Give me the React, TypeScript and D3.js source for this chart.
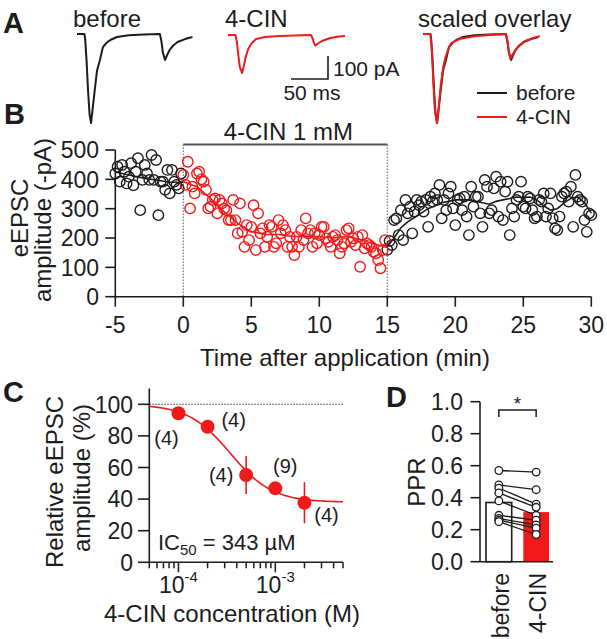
import React from 'react';
import * as d3 from 'd3';

const FONT = '"Liberation Sans", Arial, Helvetica, sans-serif';
const RED = '#f01a1a';
const INK = '#1c1c1c';

// ---------- Panel A: example traces (ms, pA) ----------
const beforeTraceT = [0, 10, 11, 13, 15, 17, 19, 21, 24, 27, 31, 35, 40, 45, 54, 70, 90, 112, 114, 116, 119, 122, 125, 130, 136, 146, 156];
const beforeTraceI = [0, 0, -20, -120, -250, -350, -387, -330, -243, -160, -113, -57, -38, -26, -13, -5, -2, 0, -30, -80, -113, -90, -70, -50, -35, -22, -13];
const cinTraceT = [0, 10, 12, 14, 16, 19, 21, 24, 27, 30, 34, 38, 50, 70, 90, 112, 114, 116, 118, 121, 127, 138, 150, 158];
const cinTraceI = [0, 0, -30, -90, -140, -165, -140, -95, -64, -45, -29, -17, -9, -4, -2, 0, -12, -32, -46, -38, -26, -13, -7, -4];
const traceTitles = ['before', '4-CIN', 'scaled overlay'];
const legendLabels = ['before', '4-CIN'];

// ---------- Panel B: time course (sampled every 10 s) ----------
const sampleStep = 1 / 6;
const beforeStartMin = -5;
const cinStartMin = 0;
const afterStartMin = 15;
const beforeAmp = [420, 443, 392, 449, 426, 386, 409, 455, 380, 426, 472, 295, 398, 449, 420, 398, 483, 398, 466, 278, 392, 392, 364, 432, 352, 432, 392, 381, 369, 420];
const cinAmp = [
  415, 381, 460, 301, 375, 352,
  420, 426, 400, 392, 364, 301,
  307, 330, 335, 284, 330, 318,
  300, 295, 261, 261, 330, 261,
  216, 318, 221, 170, 244, 193,
  238, 312, 159, 284, 216, 233,
  170, 204, 244, 238, 170, 182,
  261, 216, 244, 227, 170, 204,
  170, 142, 204, 170, 227, 193,
  267, 216, 227, 170, 216, 182,
  210, 238, 238, 199, 187, 170,
  204, 210, 193, 148, 170, 182,
  227, 233, 187, 199, 176, 204,
  102, 210, 165, 182, 176, 170,
  153, 148, 125, 97, 159, 193,
];
const afterAmp = [
  160, 190, 176, 261, 267, 210,
  295, 193, 330, 284, 307, 216,
  290, 330, 312, 324, 290, 330,
  238, 341, 324, 352, 330, 381,
  267, 330, 295, 352, 375, 301,
  244, 330, 335, 295, 341, 273,
  210, 375, 307, 341, 341, 284,
  238, 398, 375, 284, 295, 369,
  409, 273, 392, 261, 358, 392,
  210, 301, 273, 330, 341, 392,
  307, 301, 341, 335, 295, 267,
  273, 330, 324, 352, 273, 301,
  352, 267, 233, 227, 273, 341,
  352, 358, 324, 375, 238, 415,
  341, 330, 324, 261, 221, 284,
  278,
];
const beforeTrendT = [-5, -4, -3, -2, -1, 0];
const beforeTrendV = [425, 415, 405, 398, 390, 390];
const cinTrendT = [0, 1, 2, 3, 4, 5, 6, 7, 8, 9, 10, 11, 12, 13, 14, 15];
const cinTrendV = [392, 375, 335, 290, 250, 222, 212, 212, 205, 205, 205, 200, 205, 195, 180, 168];
const afterTrendT = [15, 15.5, 16, 16.5, 17, 17.5, 18, 18.5, 19, 19.5, 20, 21, 22, 22.5, 23, 23.5, 24, 24.5, 25, 25.5, 26, 26.5, 27, 27.5, 28, 28.5, 29, 29.5, 30];
const afterTrendV = [170, 200, 235, 255, 270, 285, 300, 310, 320, 325, 330, 330, 320, 315, 325, 330, 335, 340, 338, 340, 330, 310, 295, 300, 320, 335, 340, 320, 285];
const bXTicks = [-5, 0, 5, 10, 15, 20, 25, 30];
const bYTicks = [0, 100, 200, 300, 400, 500];
const drugLabel = '4-CIN 1 mM';
const drugWindow = [0, 15];

// ---------- Panel C: concentration-response ----------
const concentrations = [1e-4, 2e-4, 5e-4, 1e-3, 2e-3];
const relAmp = [94.3, 85.8, 55.3, 46.8, 37.7];
const relErr = [2, 2, 12, 2, 13];
const nCells = [4, 4, 4, 9, 4];
const fitIC50 = 343e-6;
const fitTop = 100;
const fitBottom = 38;
const fitHill = 2;
const cYTicks = [0, 20, 40, 60, 80, 100];

// ---------- Panel D: paired-pulse ratio ----------
const pprCats = ['before', '4-CIN'];
const pprMeans = [0.37, 0.31];
const pprBefore = [0.57, 0.48, 0.46, 0.43, 0.38, 0.29, 0.27, 0.26, 0.25];
const pprCin = [0.56, 0.45, 0.36, 0.34, 0.29, 0.26, 0.23, 0.21, 0.17];
const dYTicks = [0, 0.2, 0.4, 0.6, 0.8, 1.0];

const T = (p: any) => <text fontFamily={FONT} fill={INK} {...p} />;

function TraceA({ t, i, x0, y0, color, scale = 1 }: any) {
  const xs = d3.scaleLinear().domain([0, 50]).range([x0, x0 + 37]);
  const ys = d3.scaleLinear().domain([0, -100]).range([y0, y0 + 23]);
  const line = d3.line<number>().x((_, k) => xs(t[k])).y((d) => ys(d * scale));
  return <path d={line(i) || ''} fill="none" stroke={color} strokeWidth={2} strokeLinejoin="round" />;
}

function PanelA() {
  const overlayScale = d3.min(beforeTraceI)! / d3.min(cinTraceI)!;
  return (
    <g>
      <T x={3} y={33} fontSize={29} fontWeight="bold">A</T>
      <T x={73} y={27} fontSize={24}>{traceTitles[0]}</T>
      <T x={225} y={27} fontSize={24}>{traceTitles[1]}</T>
      <T x={418} y={27} fontSize={24}>{traceTitles[2]}</T>
      <TraceA t={beforeTraceT} i={beforeTraceI} x0={77} y0={34} color={INK} />
      <TraceA t={cinTraceT} i={cinTraceI} x0={228} y0={35} color={RED} />
      <TraceA t={beforeTraceT} i={beforeTraceI} x0={423} y0={34} color={INK} />
      <TraceA t={cinTraceT} i={cinTraceI} x0={423} y0={34} color={RED} scale={overlayScale} />
      {/* scale bar */}
      <path d="M291,79 H328 V56" fill="none" stroke={INK} strokeWidth={1.6} />
      <T x={333} y={76} fontSize={21}>100 pA</T>
      <T x={312} y={100} fontSize={21} textAnchor="middle">50 ms</T>
      {/* legend */}
      <line x1={477} x2={507} y1={93} y2={93} stroke={INK} strokeWidth={2} />
      <T x={516} y={100} fontSize={21}>{legendLabels[0]}</T>
      <line x1={477} x2={507} y1={117} y2={117} stroke={RED} strokeWidth={2} />
      <T x={516} y={124} fontSize={21}>{legendLabels[1]}</T>
    </g>
  );
}

function PanelB() {
  const x = d3.scaleLinear().domain([-5, 30]).range([115.3, 591.3]);
  const y = d3.scaleLinear().domain([0, 500]).range([296.7, 150]);
  const pts = (arr: number[], start: number) => arr.map((v, k) => ({ t: start + k * sampleStep, v }));
  const bPts = pts(beforeAmp, beforeStartMin);
  const cPts = pts(cinAmp, cinStartMin);
  const aPts = pts(afterAmp, afterStartMin);
  const trend = (tt: number[], vv: number[]) =>
    d3.line<number>().x((_, k) => x(tt[k])).y((d) => y(d))(vv) || '';
  const barY = 144.5;
  return (
    <g>
      <T x={4} y={124} fontSize={29} fontWeight="bold">B</T>
      {/* drug bar */}
      <line x1={x(drugWindow[0])} x2={x(drugWindow[1])} y1={barY} y2={barY} stroke="#555" strokeWidth={2} />
      <T x={(x(drugWindow[0]) + x(drugWindow[1])) / 2 + 3} y={140} fontSize={24} textAnchor="middle">{drugLabel}</T>
      {drugWindow.map((d) => (
        <line key={d} x1={x(d)} x2={x(d)} y1={barY} y2={y(0)} stroke="#777" strokeWidth={1.2} strokeDasharray="1.5,1.5" />
      ))}
      {/* axes */}
      <line x1={x(-5)} x2={x(-5)} y1={y(500)} y2={y(0)} stroke={INK} strokeWidth={1.6} />
      <line x1={x(-5)} x2={x(30)} y1={y(0)} y2={y(0)} stroke={INK} strokeWidth={1.6} />
      {bYTicks.map((v) => (
        <g key={v}>
          <line x1={x(-5) - 10} x2={x(-5)} y1={y(v)} y2={y(v)} stroke={INK} strokeWidth={1.6} />
          <T x={99} y={y(v)} dy="0.36em" fontSize={23} textAnchor="end">{v}</T>
        </g>
      ))}
      {bXTicks.map((v) => (
        <g key={v}>
          <line x1={x(v)} x2={x(v)} y1={y(0)} y2={y(0) + 10} stroke={INK} strokeWidth={1.6} />
          <T x={x(v)} y={333} fontSize={23} textAnchor="middle">{v}</T>
        </g>
      ))}
      <T x={345} y={366} fontSize={24} textAnchor="middle">Time after application (min)</T>
      <T transform="translate(28,218) rotate(-90)" fontSize={24} textAnchor="middle">eEPSC</T>
      <T transform="translate(51,220) rotate(-90)" fontSize={24} textAnchor="middle">amplitude (-pA)</T>
      {/* points */}
      {bPts.concat(aPts).map((p, k) => (
        <circle key={'k' + k} cx={x(p.t)} cy={y(p.v)} r={5.2} fill="none" stroke={INK} strokeWidth={1.4} />
      ))}
      {cPts.map((p, k) => (
        <circle key={'r' + k} cx={x(p.t)} cy={y(p.v)} r={5.2} fill="none" stroke={RED} strokeWidth={1.4} />
      ))}
      <path d={trend(beforeTrendT, beforeTrendV)} fill="none" stroke={INK} strokeWidth={1.6} />
      <path d={trend(afterTrendT, afterTrendV)} fill="none" stroke={INK} strokeWidth={1.6} />
      <path d={trend(cinTrendT, cinTrendV)} fill="none" stroke={RED} strokeWidth={1.6} />
    </g>
  );
}

function PanelC() {
  const x = d3.scaleLog().domain([5e-5, 5e-3]).range([149.3, 343]);
  const y = d3.scaleLinear().domain([0, 110]).range([562.3, 388.5]);
  const ticks = x.ticks();
  const fitX = d3.range(0, 201).map((k) => Math.pow(10, Math.log10(5e-5) + (k / 200) * 2));
  const hill = (c: number) => fitBottom + (fitTop - fitBottom) / (1 + Math.pow(c / fitIC50, fitHill));
  const fitLine = d3.line<number>().x((c) => x(c)).y((c) => y(hill(c)))(fitX) || '';
  const labelOffsets = [[-12, 24], [26, -7], [-25, 0], [10, -23], [22, 12]];
  return (
    <g>
      <T x={3} y={402} fontSize={29} fontWeight="bold">C</T>
      <line x1={149.3} x2={343} y1={y(100)} y2={y(100)} stroke="#666" strokeWidth={1.2} strokeDasharray="1.5,1.5" />
      <line x1={149.3} x2={149.3} y1={y(110)} y2={y(0)} stroke={INK} strokeWidth={1.6} />
      <line x1={149.3} x2={343} y1={y(0)} y2={y(0)} stroke={INK} strokeWidth={1.6} />
      {cYTicks.map((v) => (
        <g key={v}>
          <line x1={138} x2={149.3} y1={y(v)} y2={y(v)} stroke={INK} strokeWidth={1.6} />
          <T x={133} y={y(v)} dy="0.36em" fontSize={23} textAnchor="end">{v}</T>
        </g>
      ))}
      {ticks.map((v, k) => {
        const major = Math.abs(Math.log10(v) - Math.round(Math.log10(v))) < 1e-6;
        return (
          <g key={k}>
            <line x1={x(v)} x2={x(v)} y1={y(0)} y2={y(0) + (major ? 10 : 6)} stroke={INK} strokeWidth={1.5} />
            {major && (
              <T x={x(v)} y={593} fontSize={23} textAnchor="middle">
                10<tspan dy={-11} fontSize={15}>{String(Math.round(Math.log10(v)))}</tspan>
              </T>
            )}
          </g>
        );
      })}
      <T x={232} y={622} fontSize={24} textAnchor="middle">4-CIN concentration (M)</T>
      <T transform="translate(63,482) rotate(-90)" fontSize={24} textAnchor="middle">Relative eEPSC</T>
      <T transform="translate(90,478) rotate(-90)" fontSize={24} textAnchor="middle">amplitude (%)</T>
      <path d={fitLine} fill="none" stroke={RED} strokeWidth={1.6} />
      {concentrations.map((c, k) => (
        <g key={k}>
          <line x1={x(c)} x2={x(c)} y1={y(relAmp[k] - relErr[k])} y2={y(relAmp[k] + relErr[k])} stroke={RED} strokeWidth={1.6} />
          <circle cx={x(c)} cy={y(relAmp[k])} r={7} fill={RED} />
          <T x={x(c) + labelOffsets[k][0]} y={y(relAmp[k]) + labelOffsets[k][1]} dy="0.36em" fontSize={20} textAnchor="middle">({nCells[k]})</T>
        </g>
      ))}
      <T x={158} y={550} fontSize={22}>
        IC<tspan dy={5} fontSize={15}>50</tspan><tspan dy={-5}> = {Math.round(fitIC50 * 1e6)} µM</tspan>
      </T>
    </g>
  );
}

function PanelD() {
  const x = d3.scaleBand().domain(pprCats).range([480, 555]).paddingInner(0.31).paddingOuter(0.16);
  const y = d3.scaleLinear().domain([0, 1]).range([561.7, 401.7]);
  const cx = (c: string) => x(c)! + x.bandwidth() / 2;
  return (
    <g>
      <T x={386} y={407} fontSize={29} fontWeight="bold">D</T>
      <rect x={x(pprCats[0])} y={y(pprMeans[0])} width={x.bandwidth()} height={y(0) - y(pprMeans[0])} fill="#fff" stroke={INK} strokeWidth={1.6} />
      <rect x={x(pprCats[1])} y={y(pprMeans[1])} width={x.bandwidth()} height={y(0) - y(pprMeans[1])} fill={RED} />
      {pprBefore.map((v, k) => (
        <line key={'l' + k} x1={cx(pprCats[0])} x2={cx(pprCats[1])} y1={y(v)} y2={y(pprCin[k])} stroke={INK} strokeWidth={1.3} />
      ))}
      {pprBefore.map((v, k) => (
        <circle key={'b' + k} cx={cx(pprCats[0])} cy={y(v)} r={3.8} fill="#fff" stroke={INK} strokeWidth={1.3} />
      ))}
      {pprCin.map((v, k) => (
        <circle key={'c' + k} cx={cx(pprCats[1])} cy={y(v)} r={3.8} fill="#fff" stroke={INK} strokeWidth={1.3} />
      ))}
      <line x1={480} x2={480} y1={y(1)} y2={y(0)} stroke={INK} strokeWidth={1.6} />
      <line x1={480} x2={553} y1={y(0)} y2={y(0)} stroke={INK} strokeWidth={1.6} />
      {dYTicks.map((v) => (
        <g key={v}>
          <line x1={470.5} x2={480} y1={y(v)} y2={y(v)} stroke={INK} strokeWidth={1.6} />
          <T x={463} y={y(v)} dy="0.36em" fontSize={23} textAnchor="end">{v.toFixed(1)}</T>
        </g>
      ))}
      <T transform="translate(425,482) rotate(-90)" fontSize={24} textAnchor="middle">PPR</T>
      <path d={`M${cx(pprCats[0])},417 V410 H${cx(pprCats[1])} V417`} fill="none" stroke={INK} strokeWidth={1.5} />
      <T x={(cx(pprCats[0]) + cx(pprCats[1])) / 2} y={410} fontSize={19} textAnchor="middle">*</T>
      {pprCats.map((c) => (
        <T key={c} transform={`translate(${cx(c) + 10},573) rotate(-90)`} fontSize={23} textAnchor="end">{c}</T>
      ))}
    </g>
  );
}

export default function App() {
  return (
    <svg width={607} height={639} style={{ position: 'absolute', left: 0, top: 0, background: '#fff' }}>
      <rect width={607} height={639} fill="#fff" />
      <PanelA />
      <PanelB />
      <PanelC />
      <PanelD />
    </svg>
  );
}
